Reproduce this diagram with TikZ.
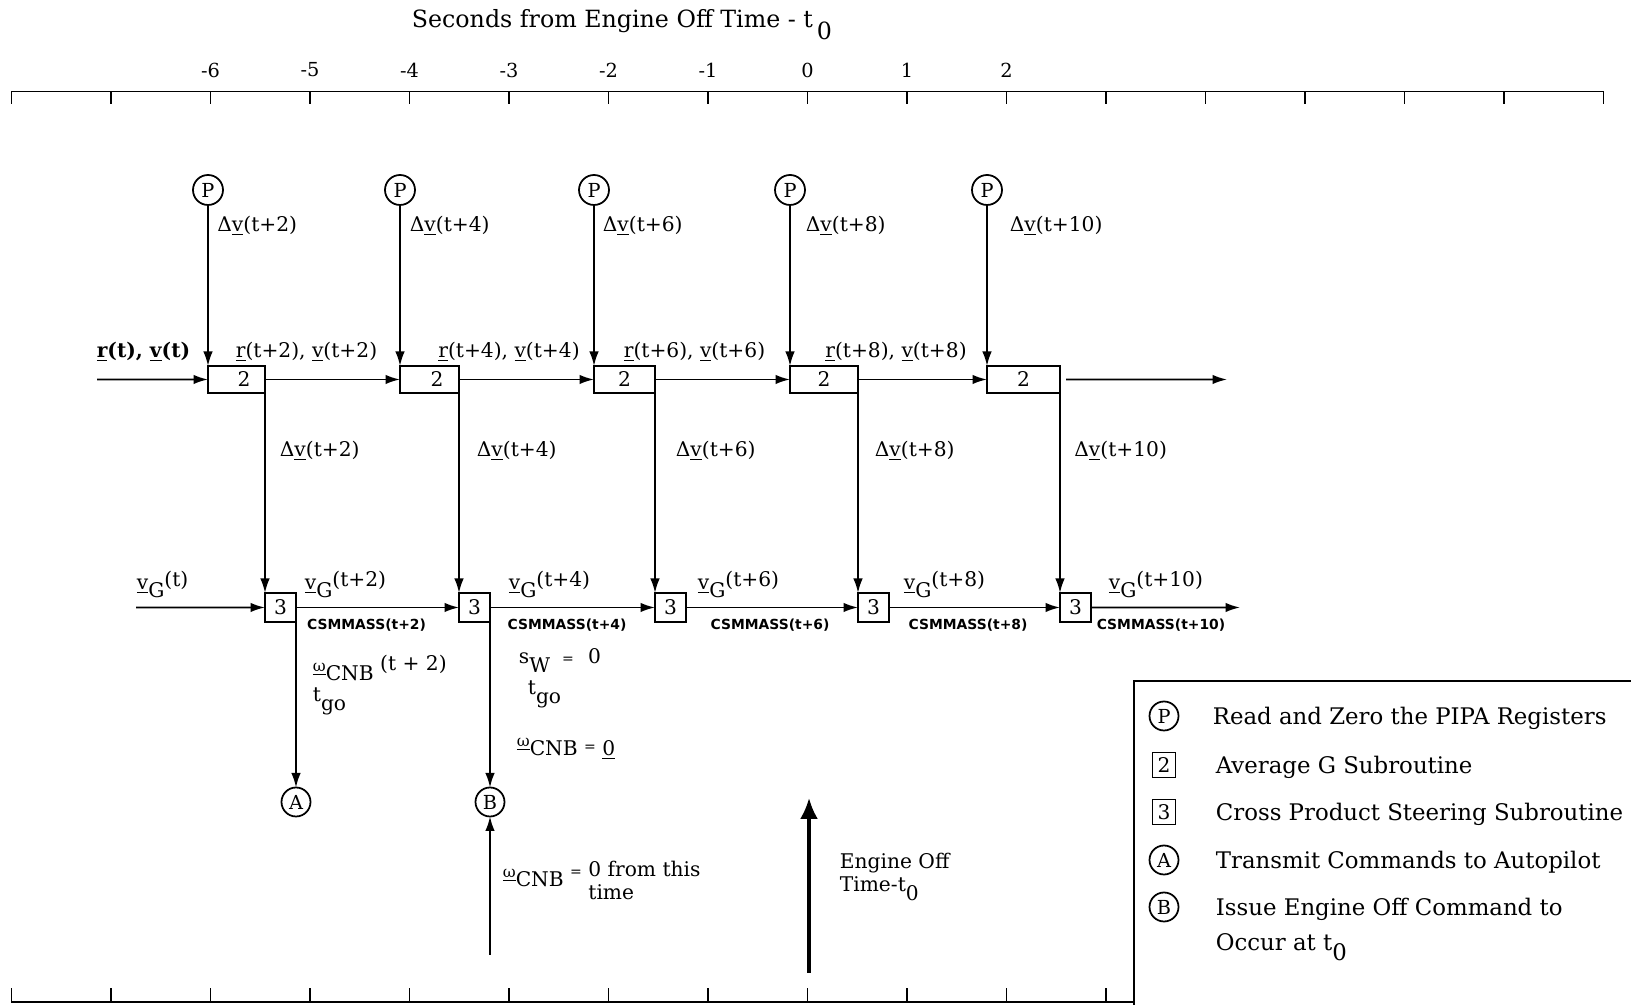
\documentclass[tikz,border=0pt]{standalone}
\usepackage{fontspec}
\setmainfont{DejaVu Serif}
\setsansfont{DejaVu Sans}
\usetikzlibrary{arrows.meta,positioning}
\newcommand{\undl}[1]{\underline{#1}}
\newcommand{\omcnb}{\raisebox{0.9ex}{\fontsize{9}{9}\selectfont\underline{ω}}CNB}
\newcommand{\vgee}[1]{\raisebox{0.8ex}{\underline{v}}G\raisebox{1.1ex}{#1}}
\newcommand{\tgo}{t\raisebox{-0.8ex}{go}}

\begin{document}
\begin{tikzpicture}[
  line width=1pt,
  lbl/.style={font=\fontsize{11.5}{13}\selectfont,inner sep=0pt},
  mass/.style={font=\sffamily\bfseries\fontsize{7.9}{8}\selectfont,inner sep=0pt},
  pipa/.style={draw,circle,minimum size=0.6cm,inner sep=0pt,outer sep=0pt,
               font=\fontsize{11}{12}\selectfont},
  avg/.style={draw,anchor=north west,minimum height=0.54cm,inner sep=0pt,
              outer sep=0pt,font=\fontsize{11.5}{12}\selectfont},
  cps/.style={draw,anchor=north west,minimum width=0.62cm,minimum height=0.58cm,
              inner sep=0pt,outer sep=0pt,font=\fontsize{11.5}{12}\selectfont},
  arr/.style={-{Latex[length=2.9mm,width=1.9mm]}},
  bigarr/.style={line width=1.8pt,-{Latex[length=4.2mm,width=3.6mm]}},
  legtxt/.style={font=\fontsize{13}{20.2}\selectfont,anchor=base west,inner sep=0pt},
]
\useasboundingbox (0,0) rectangle (32.62,20.10);

% time axes
\node[lbl,font=\fontsize{13.5}{14}\selectfont,anchor=base west] (title) at (8.22,19.54)
  {Seconds from Engine Off Time - t\,\raisebox{-0.9ex}{0}};
\draw[line width=1.1pt] (0.23,18.27) -- (32.07,18.27);
\foreach \k in {0,...,16}
  \draw[line width=1.1pt] (0.23+1.99*\k,18.27) -- ++(0,-0.25);
\foreach \k/\s in {2/-6,3/-5,4/-4,5/-3,6/-2,7/-1,8/0,9/1,10/2}
  \node[lbl,font=\fontsize{11}{12}\selectfont] at (0.23+1.99*\k,18.70) {\s};
\draw[line width=1.1pt] (0.23,0.06) -- (22.68,0.06);
\foreach \k in {0,...,11}
  \draw[line width=1.1pt] (0.23+1.99*\k,0.06) -- ++(0,0.28);

% read PIPA
\node[pipa] (p1) at (4.16,16.30) {P};
\node[pipa] (p2) at (8.00,16.30) {P};
\node[pipa] (p3) at (11.88,16.30) {P};
\node[pipa] (p4) at (15.80,16.30) {P};
\node[pipa] (p5) at (19.74,16.30) {P};

% average G
\node[avg,minimum width=1.14cm] (avg1) at (4.16,12.78) {\hspace*{3mm}2};
\node[avg,minimum width=1.18cm] (avg2) at (8.00,12.78) {\hspace*{3mm}2};
\node[avg,minimum width=1.22cm] (avg3) at (11.88,12.78) {2};
\node[avg,minimum width=1.36cm] (avg4) at (15.80,12.78) {2};
\node[avg,minimum width=1.46cm] (avg5) at (19.74,12.78) {2};

% cross product steering
\node[cps] (cps1) at (5.30,8.24) {3};
\node[cps] (cps2) at (9.18,8.24) {3};
\node[cps] (cps3) at (13.10,8.24) {3};
\node[cps] (cps4) at (17.16,8.24) {3};
\node[cps] (cps5) at (21.20,8.24) {3};

\node[pipa,minimum size=0.58cm] (pa) at (5.92,4.06) {A};
\node[pipa,minimum size=0.58cm] (pb) at (9.80,4.06) {B};

\coordinate (rin) at (1.94,12.51);
\coordinate (rout) at (24.54,12.51);
\coordinate (vgin) at (2.72,7.95);
\coordinate (vgout) at (24.80,7.95);
\coordinate (bfoot) at (9.80,1.00);
\coordinate (eoff0) at (16.18,0.64);
\coordinate (eoff1) at (16.18,4.14);

\draw[arr] (p1) -- (avg1.north west);
\draw[arr] (p2) -- (avg2.north west);
\draw[arr] (p3) -- (avg3.north west);
\draw[arr] (p4) -- (avg4.north west);
\draw[arr] (p5) -- (avg5.north west);
\draw[arr] (rin) -- (avg1.west);
\draw[arr] (avg1) -- (avg2);
\draw[arr] (avg2) -- (avg3);
\draw[arr] (avg3) -- (avg4);
\draw[arr] (avg4) -- (avg5);
\draw[arr,shorten <=1.2mm] (avg5.east) -- (rout);
\draw[arr] (avg1.south east) -- (cps1.north west);
\draw[arr] (avg2.south east) -- (cps2.north west);
\draw[arr] (avg3.south east) -- (cps3.north west);
\draw[arr] (avg4.south east) -- (cps4.north west);
\draw[arr] (avg5.south east) -- (cps5.north west);
\draw[arr] (vgin) -- (cps1.west);
\draw[arr] (cps1) -- (cps2);
\draw[arr] (cps2) -- (cps3);
\draw[arr] (cps3) -- (cps4);
\draw[arr] (cps4) -- (cps5);
\draw[arr] (cps5.east) -- (vgout);
\draw[arr] (cps1.south east) -- (pa);
\draw[arr] (cps2.south east) -- (pb);
\draw[arr] (bfoot) -- (pb);
\draw[bigarr] (eoff0) -- (eoff1);

% labels
\node[lbl,anchor=west] (dv1) at (4.33,15.58) {Δ\undl{v}(t+2)};
\node[lbl,anchor=west] (dv2) at (8.18,15.58) {Δ\undl{v}(t+4)};
\node[lbl,anchor=west] (dv3) at (12.04,15.58) {Δ\undl{v}(t+6)};
\node[lbl,anchor=west] (dv4) at (16.10,15.58) {Δ\undl{v}(t+8)};
\node[lbl,anchor=west] (dv5) at (20.18,15.58) {Δ\undl{v}(t+10)};

\node[lbl] (rv0) at (2.87,13.06) {\textbf{\undl{r}(t), \undl{v}(t)}};
\node[lbl] (rv1) at (6.13,13.06) {\undl{r}(t+2), \undl{v}(t+2)};
\node[lbl] (rv2) at (10.18,13.06) {\undl{r}(t+4), \undl{v}(t+4)};
\node[lbl] (rv3) at (13.89,13.06) {\undl{r}(t+6), \undl{v}(t+6)};
\node[lbl] (rv4) at (17.92,13.06) {\undl{r}(t+8), \undl{v}(t+8)};

\node[lbl,anchor=west] (dm1) at (5.58,11.08) {Δ\undl{v}(t+2)};
\node[lbl,anchor=west] (dm2) at (9.52,11.08) {Δ\undl{v}(t+4)};
\node[lbl,anchor=west] (dm3) at (13.50,11.08) {Δ\undl{v}(t+6)};
\node[lbl,anchor=west] (dm4) at (17.48,11.08) {Δ\undl{v}(t+8)};
\node[lbl,anchor=west] (dm5) at (21.47,11.08) {Δ\undl{v}(t+10)};

\node[lbl,anchor=base west] (vg0) at (2.72,8.14) {\vgee{(t)}};
\node[lbl,anchor=base west] (vg1) at (6.08,8.14) {\vgee{(t+2)}};
\node[lbl,anchor=base west] (vg2) at (10.16,8.14) {\vgee{(t+4)}};
\node[lbl,anchor=base west] (vg3) at (13.94,8.14) {\vgee{(t+6)}};
\node[lbl,anchor=base west] (vg4) at (18.06,8.14) {\vgee{(t+8)}};
\node[lbl,anchor=base west] (vg5) at (22.16,8.14) {\vgee{(t+10)}};

\node[mass] (m1) at (7.33,7.60) {CSMMASS(t+2)};
\node[mass] (m2) at (11.34,7.60) {CSMMASS(t+4)};
\node[mass] (m3) at (15.40,7.60) {CSMMASS(t+6)};
\node[mass] (m4) at (19.36,7.60) {CSMMASS(t+8)};
\node[mass] (m5) at (23.22,7.60) {CSMMASS(t+10)};

\node[lbl,anchor=base west] (wa) at (6.24,6.48) {\omcnb\ \raisebox{1ex}{(t + 2)}};
\node[lbl,anchor=base west] (ta) at (6.24,6.06) {\tgo};
\node[lbl,anchor=base west] (sw) at (10.36,6.82)
  {s\raisebox{-0.8ex}{W}\hspace{0.6em}{\fontsize{8}{8}\selectfont =}\hspace{0.7em}0};
\node[lbl,anchor=base west] (tb) at (10.54,6.20) {\tgo};
\node[lbl,anchor=base west] (wb) at (10.32,4.98)
  {\omcnb\ \raisebox{0.4ex}{\fontsize{8}{8}\selectfont =}\ \undl{0}};
\node[lbl,anchor=base west] (wz) at (10.04,2.36)
  {\omcnb\ \raisebox{0.2cm}{\fontsize{8}{8}\selectfont =}\ \raisebox{0.2cm}{\begin{tabular}[t]{@{}l@{}}0 from this\\time\end{tabular}}};
\node[lbl,anchor=base west] (eo) at (16.78,2.72)
  {\begin{tabular}[t]{@{}l@{}}Engine Off\\Time-t\raisebox{-0.8ex}{0}\end{tabular}};

% legend
\draw (22.68,0) -- (22.68,6.48) -- (32.62,6.48);
\node[pipa,minimum size=0.58cm] (lp) at (23.28,5.78) {P};
\node[draw,minimum width=0.46cm,minimum height=0.50cm,inner sep=0pt,
      font=\fontsize{11.5}{12}\selectfont] (l2) at (23.28,4.80) {2};
\node[draw,minimum width=0.46cm,minimum height=0.50cm,inner sep=0pt,
      font=\fontsize{11.5}{12}\selectfont] (l3) at (23.28,3.86) {3};
\node[pipa,minimum size=0.58cm] (la) at (23.28,2.90) {A};
\node[pipa,minimum size=0.58cm] (lb) at (23.28,1.96) {B};
\node[legtxt] (tp) at (24.24,5.61) {Read and Zero the PIPA Registers};
\node[legtxt] (t2) at (24.30,4.63) {Average G Subroutine};
\node[legtxt] (t3) at (24.30,3.69) {Cross Product Steering Subroutine};
\node[legtxt] (ta2) at (24.30,2.73) {Transmit Commands to Autopilot};
\node[legtxt] (tb2) at (24.30,1.79)
  {\begin{tabular}[t]{@{}l@{}}Issue Engine Off Command to\\Occur at t\raisebox{-0.8ex}{0}\end{tabular}};
\end{tikzpicture}
\end{document}
